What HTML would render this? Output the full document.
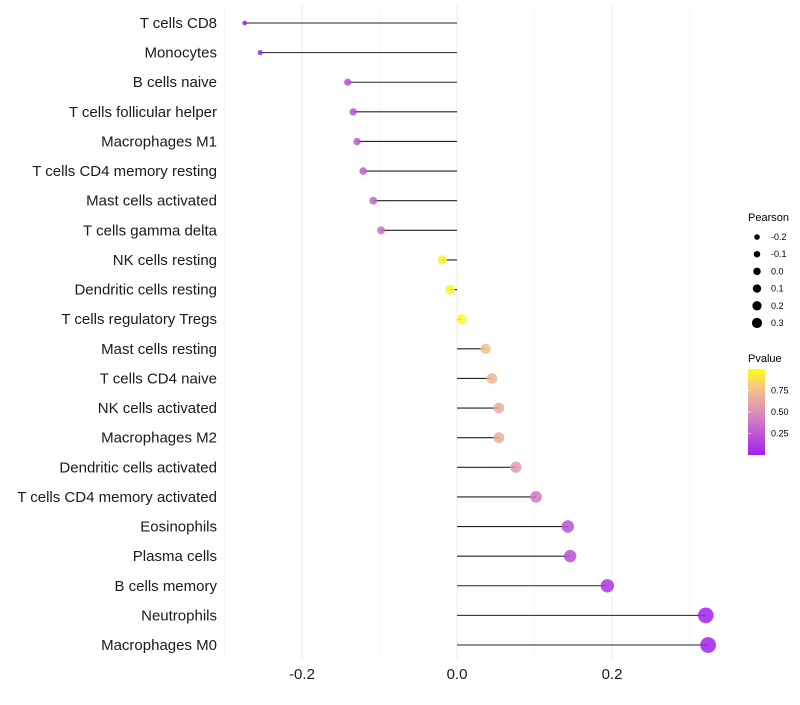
<!DOCTYPE html>
<html><head><meta charset="utf-8"><style>
body{margin:0;background:#fff;font-family:"Liberation Sans",sans-serif}
</style></head><body>
<svg id="chart" width="800" height="700" xmlns="http://www.w3.org/2000/svg">
<g id="grid"></g>
<g id="marks"></g>
<g id="ylabels" font-size="15" fill="#1a1a1a" text-anchor="end" style="white-space:pre"></g>
<g id="xlabels" font-size="15" fill="#1a1a1a" text-anchor="middle"></g>
<g font-size="9" fill="#000">
  <text x="748" y="221" font-size="11">Pearson</text>
  <g id="sizeleg"></g>
</g>
<g font-size="9" fill="#000">
  <text x="748" y="362" font-size="11">Pvalue</text>
  <defs><linearGradient id="pg" x1="0" y1="1" x2="0" y2="0">
    <stop offset="0" stop-color="#a020f0"/><stop offset="0.5" stop-color="#dc8fb8"/><stop offset="0.8" stop-color="#f6c880"/><stop offset="1" stop-color="#ffff10"/></linearGradient></defs>
  <rect x="748" y="369" width="17" height="86" fill="url(#pg)"/>
  <g id="colleg"></g>
</g>
</svg>
<script>
const categories=["T cells CD8","Monocytes","B cells naive","T cells follicular helper","Macrophages M1","T cells CD4 memory resting","Mast cells activated","T cells gamma delta","NK cells resting","Dendritic cells resting","T cells regulatory  Tregs ","Mast cells resting","T cells CD4 naive","NK cells activated","Macrophages M2","Dendritic cells activated","T cells CD4 memory activated","Eosinophils","Plasma cells","B cells memory","Neutrophils","Macrophages M0"];
const pearson=[-0.274,-0.254,-0.141,-0.134,-0.129,-0.121,-0.108,-0.098,-0.019,-0.009,0.006,0.037,0.045,0.054,0.054,0.076,0.102,0.143,0.146,0.194,0.321,0.324];
const pvalue=[0.0,0.02,0.2,0.22,0.25,0.27,0.3,0.35,0.93,0.97,0.98,0.75,0.7,0.65,0.65,0.55,0.4,0.22,0.21,0.1,0.01,0.01];
const xTicks=[-0.2,0,0.2];
const xTickLabels=["-0.2","0.0","0.2"];
const xMinor=[-0.3,-0.1,0.1,0.3];
const sizeLegendVals=[-0.2,-0.1,0.0,0.1,0.2,0.3];
const colorLegendVals=[0.25,0.5,0.75];

const NS="http://www.w3.org/2000/svg";
const X=v=>457+v*775;
const Y=i=>23+i*(622/21);
const R=v=>Math.max(1.8,4.9+9.2*v);
function lerp(a,b,t){return a.map((x,i)=>Math.round(x+(b[i]-x)*t));}
const stops=[[0,[160,32,240]],[0.5,[220,143,184]],[0.8,[246,200,128]],[1,[255,255,16]]];
function col(p){for(let k=1;k<stops.length;k++){if(p<=stops[k][0]){const t=(p-stops[k-1][0])/(stops[k][0]-stops[k-1][0]);const c=lerp(stops[k-1][1],stops[k][1],t);return `rgb(${c})`;}}return "rgb(255,255,16)";}
function mk(tag,attrs,parent){const e=document.createElementNS(NS,tag);for(const k in attrs)e.setAttribute(k,attrs[k]);parent.appendChild(e);return e;}
const grid=document.getElementById('grid');
xMinor.forEach(v=>{const l=mk('line',{x1:X(v),x2:X(v),y1:5,y2:660,stroke:'#f2f2f2','stroke-width':0.6},grid);

});
xTicks.forEach((v,i)=>{const l=mk('line',{x1:X(v),x2:X(v),y1:5,y2:660,stroke:'#ebebeb','stroke-width':1},grid);


const t=mk('text',{x:X(v),y:679},document.getElementById('xlabels'));t.textContent=xTickLabels[i];

});
const marks=document.getElementById('marks');
categories.forEach((c,i)=>{
 const l=mk('line',{x1:X(0),x2:X(pearson[i]),y1:Y(i),y2:Y(i),stroke:'#222','stroke-width':1.1},marks);
 
 
 const d=mk('circle',{cx:X(pearson[i]),cy:Y(i),r:R(pearson[i]),fill:col(pvalue[i]),'fill-opacity':0.85},marks);
 
 
 const t=mk('text',{x:217,y:Y(i)+5},document.getElementById('ylabels'));t.textContent=c;
 
 
});
const sl=document.getElementById('sizeleg');
sizeLegendVals.forEach((v,i)=>{const y=237+i*17.2;
 const c=mk('circle',{cx:757,cy:y,r:2.8+(v+0.2)*4.6,fill:'#000'},sl);
 
 
 const t=mk('text',{x:771,y:y+3},sl);t.textContent=v.toFixed(1);
 
 });
const cl=document.getElementById('colleg');
colorLegendVals.forEach(v=>{const y=455-v*86;
 const k=mk('line',{x1:748,x2:751,y1:y,y2:y,stroke:'#fff','stroke-width':0.6},cl);
 
 
 const t=mk('text',{x:771,y:y+3},cl);t.textContent=v.toFixed(2);
 
 });
</script>
</body></html>
